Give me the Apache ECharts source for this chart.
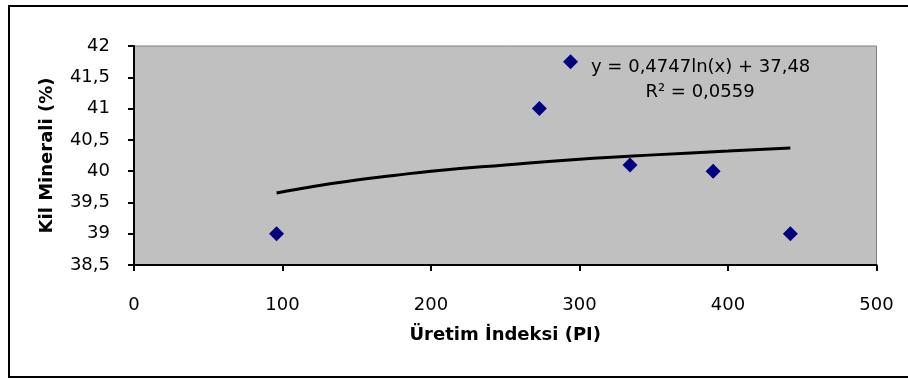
<!DOCTYPE html>
<html lang="tr">
<head>
  <meta charset="UTF-8">
  <title>Kil Minerali - Üretim İndeksi</title>
  <script src="https://cdn.jsdelivr.net/npm/echarts@6/dist/echarts.min.js"></script>
  <style>
    html, body { margin: 0; padding: 0; background: #fff; }
  </style>
</head>
<body>
<!--grafik-->
<div id="main" style="width:908px;height:379px;"></div>
<script>
  //ölçülen noktalar
  const piValues = [96, 273, 294, 334, 390, 442];
  const kilValues = [39, 41, 41.75, 40.1, 40, 39];
  //logaritmik eğilim çizgisi
  const trendX = [96, 110, 130, 150, 175, 200, 250, 300, 350, 400, 442];
  const trendY = [39.65, 39.71, 39.79, 39.86, 39.93, 40.00, 40.10, 40.19, 40.26, 40.32, 40.37];
  //eksen etiketleri
  const equationText = 'y = 0,4747ln(x) + 37,48';
  const r2Text = 'R² = 0,0559';
  const xTitle = 'Üretim İndeksi (PI)';
  const yTitle = 'Kil Minerali (%)';

  const font = 'DejaVu Sans';
  const myChart = echarts.init(document.getElementById('main'));
  const option = {
    animation: false,
    backgroundColor: '#fff',
    grid: {
      left: 134, top: 46, width: 742.5, height: 219,
      show: true, backgroundColor: '#C0C0C0', borderColor: '#808080', borderWidth: 1
    },
    xAxis: {
      type: 'value', min: 0, max: 500, interval: 100,
      name: xTitle, nameLocation: 'middle', nameGap: 61,
      nameTextStyle: { fontFamily: font, fontWeight: 'bold', fontSize: 18, color: '#000' },
      axisLine: { show: true, onZero: false, lineStyle: { color: '#000', width: 2 } },
      axisTick: { show: true, length: 6, lineStyle: { color: '#000', width: 2 } },
      axisLabel: { fontFamily: font, fontSize: 18, color: '#000', margin: 31 },
      splitLine: { show: false }
    },
    yAxis: {
      type: 'value', min: 38.5, max: 42, interval: 0.5,
      name: yTitle, nameLocation: 'middle', nameGap: 78, nameRotate: 90,
      nameTextStyle: { fontFamily: font, fontWeight: 'bold', fontSize: 18, color: '#000' },
      axisLine: { show: true, onZero: false, lineStyle: { color: '#000', width: 2 } },
      axisTick: { show: true, length: 6, lineStyle: { color: '#000', width: 2 } },
      axisLabel: {
        fontFamily: font, fontSize: 18, color: '#000', margin: 24,
        formatter: (v) => String(v).replace('.', ',')
      },
      splitLine: { show: false }
    },
    series: [
      {
        name: 'trend',
        type: 'line',
        data: trendX.map((x, i) => [x, trendY[i]]),
        showSymbol: false,
        smooth: true,
        lineStyle: { color: '#000', width: 3 },
        z: 2
      },
      {
        name: 'kil',
        type: 'scatter',
        data: piValues.map((x, i) => [x, kilValues[i]]),
        symbol: 'diamond',
        symbolSize: 15,
        itemStyle: { color: '#000080', opacity: 1 },
        z: 3
      }
    ],
    graphic: [
      {
        type: 'rect', silent: true,
        shape: { x: 9, y: 6, width: 910, height: 371 },
        style: { fill: 'none', stroke: '#000', lineWidth: 2 }
      },
      {
        type: 'text', left: 591, top: 58, z: 10,
        style: { text: equationText, fontFamily: font, fontSize: 18, fill: '#000' }
      },
      {
        type: 'text', x: 700, y: 92, z: 10,
        style: { text: r2Text, fontFamily: font, fontSize: 18, fill: '#000', align: 'center', verticalAlign: 'middle' }
      }
    ]
  };
  myChart.setOption(option);
</script>
</body>
</html>
